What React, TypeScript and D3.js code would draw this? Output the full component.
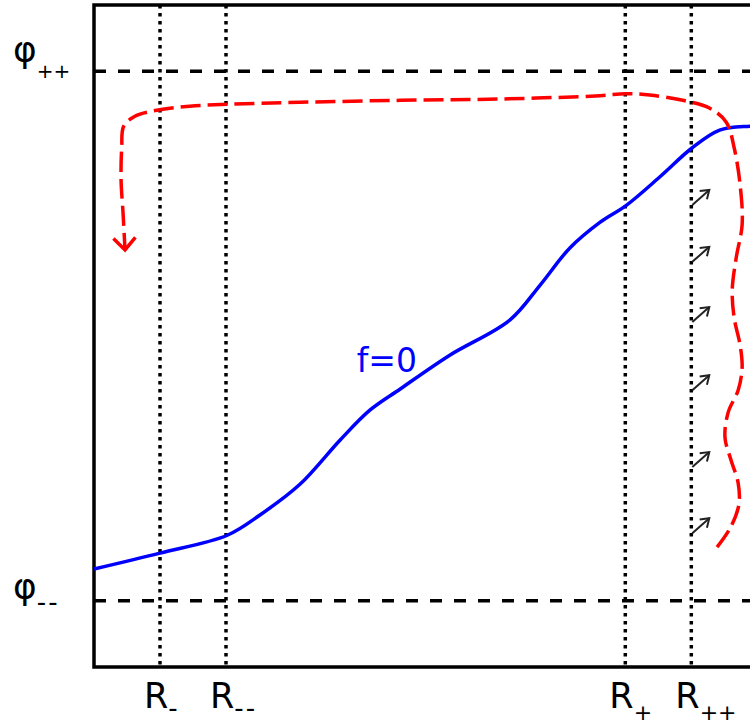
import React, { useRef, useEffect } from 'react'
import * as d3 from 'd3'

const W = 750
const H = 724

// vertical guide lines (radii) and their labels
const radiusValues = [1.0, 2.0, 8.05, 9.05]
const radiusSubs = ['-', '--', '+', '++']

// horizontal guide lines (phi levels)
const phiValues = [9.0, 1.0]
const phiSubs = ['++', '--']

// f=0 curve (blue)
const fX = [0, 1.0, 2.02, 2.52, 3.12, 3.73, 4.18, 4.64, 5.39, 6.3, 6.76, 7.21, 7.67, 8.06, 8.58, 9.06, 9.48, 9.94, 10.2]
const fY = [1.48, 1.72, 1.99, 2.3, 2.76, 3.43, 3.88, 4.2, 4.71, 5.24, 5.77, 6.33, 6.72, 6.97, 7.41, 7.84, 8.11, 8.17, 8.18]

// trajectory (red dashed), drawn from its start at the bottom right to the arrow head
const flowX = [9.44, 9.64, 9.77, 9.76, 9.65, 9.56, 9.61, 9.76, 9.82, 9.79, 9.7, 9.67, 9.73, 9.82, 9.79, 9.7, 9.58, 9.33, 8.92, 8.42, 8.05, 7.67, 6.15, 4.64, 3.12, 2.02, 1.45, 0.95, 0.62, 0.45, 0.42, 0.41, 0.44, 0.47]
const flowY = [1.81, 2.1, 2.45, 2.78, 3.13, 3.47, 3.85, 4.18, 4.52, 4.86, 5.27, 5.69, 6.18, 6.68, 7.28, 7.84, 8.23, 8.44, 8.56, 8.64, 8.66, 8.63, 8.58, 8.56, 8.53, 8.5, 8.47, 8.41, 8.32, 8.17, 7.85, 7.36, 6.86, 6.3]

// small arrows along R++ (tail heights)
const arrowY = [6.98, 6.12, 5.21, 4.18, 3.02, 2.02]

const FONT = 'DejaVu Sans, sans-serif'

const App = () => {
  const svgRef = useRef(null)

  useEffect(() => {
    const svg = d3.select(svgRef.current)
    svg.selectAll('*').remove()

    const x = d3.scaleLinear().domain([0, 10]).range([94, 754])
    const y = d3.scaleLinear().domain([0, 10]).range([667, 5])

    const defs = svg.append('defs')
    defs.append('marker')
      .attr('id', 'blackHead')
      .attr('markerUnits', 'userSpaceOnUse')
      .attr('markerWidth', 20).attr('markerHeight', 20)
      .attr('viewBox', '-10 -10 20 20')
      .attr('refX', 0).attr('refY', 0)
      .attr('orient', 'auto')
      .append('path')
      .attr('d', 'M-8,-5.5 L0,0 L-8,5.5')
      .attr('fill', 'none')
      .attr('stroke', '#222')
      .attr('stroke-width', 2)
    defs.append('marker')
      .attr('id', 'redHead')
      .attr('markerUnits', 'userSpaceOnUse')
      .attr('markerWidth', 40).attr('markerHeight', 40)
      .attr('viewBox', '-20 -20 40 40')
      .attr('refX', 0).attr('refY', 0)
      .attr('orient', 'auto')
      .append('path')
      .attr('d', 'M-12,-11 L0,0 L-12,11')
      .attr('fill', 'none')
      .attr('stroke', '#ff0000')
      .attr('stroke-width', 3.5)

    // guide lines
    svg.append('g').selectAll('line.rad')
      .data(radiusValues)
      .enter().append('line')
      .attr('class', 'rad')
      .attr('x1', d => x(d)).attr('x2', d => x(d))
      .attr('y1', y(10)).attr('y2', y(0))
      .attr('stroke', '#000')
      .attr('stroke-width', 3.5)
      .attr('stroke-dasharray', '3.5 4.5')

    svg.append('g').selectAll('line.phi')
      .data(phiValues)
      .enter().append('line')
      .attr('class', 'phi')
      .attr('x1', x(0)).attr('x2', W + 10)
      .attr('y1', d => y(d)).attr('y2', d => y(d))
      .attr('stroke', '#000')
      .attr('stroke-width', 3.5)
      .attr('stroke-dasharray', '12 12')

    // frame
    svg.append('rect')
      .attr('x', x(0)).attr('y', y(10))
      .attr('width', W).attr('height', y(0) - y(10))
      .attr('fill', 'none')
      .attr('stroke', '#000')
      .attr('stroke-width', 3.5)

    // f=0 curve
    const fLine = d3.line<number>()
      .x(i => x(fX[i]))
      .y(i => y(fY[i]))
      .curve(d3.curveCatmullRom)
    svg.append('path')
      .attr('d', fLine(d3.range(fX.length)))
      .attr('fill', 'none')
      .attr('stroke', '#0000ff')
      .attr('stroke-width', 3.5)

    svg.append('text')
      .attr('x', x(3.98)).attr('y', y(4.45))
      .attr('font-family', FONT)
      .attr('font-size', 33)
      .attr('fill', '#0000ff')
      .text('f=0')

    // arrows at R++
    svg.append('g').selectAll('line.arr')
      .data(arrowY)
      .enter().append('line')
      .attr('class', 'arr')
      .attr('x1', x(radiusValues[3]) + 1).attr('y1', d => y(d))
      .attr('x2', x(radiusValues[3]) + 18).attr('y2', d => y(d) - 15)
      .attr('stroke', '#222')
      .attr('stroke-width', 2)
      .attr('marker-end', 'url(#blackHead)')

    // red trajectory
    const flowLine = d3.line<number>()
      .x(i => x(flowX[i]))
      .y(i => y(flowY[i]))
      .curve(d3.curveCatmullRom)
    svg.append('path')
      .attr('d', flowLine(d3.range(flowX.length)))
      .attr('fill', 'none')
      .attr('stroke', '#ff0000')
      .attr('stroke-width', 3.5)
      .attr('stroke-dasharray', '20 7')
      .attr('marker-end', 'url(#redHead)')

    // R labels
    const rl = svg.append('g').selectAll('text.rl')
      .data(radiusValues)
      .enter().append('text')
      .attr('class', 'rl')
      .attr('x', d => x(d) - 16)
      .attr('y', 708)
      .attr('font-family', FONT)
      .attr('font-size', 35)
    rl.append('tspan').text('R')
    rl.append('tspan')
      .attr('dy', (d, i) => radiusSubs[i].includes('+') ? 12 : 9)
      .attr('font-size', (d, i) => radiusSubs[i].includes('+') ? 22 : 26)
      .attr('letter-spacing', (d, i) => radiusSubs[i].includes('+') ? 0 : 2)
      .text((d, i) => radiusSubs[i])

    // phi labels
    const pl = svg.append('g').selectAll('text.pl')
      .data(phiValues)
      .enter().append('text')
      .attr('class', 'pl')
      .attr('x', 13)
      .attr('y', (d, i) => y(d) + (phiSubs[i] === '++' ? -9 : -2))
      .attr('font-family', FONT)
      .attr('font-size', 36)
    pl.append('tspan').text('φ')
    pl.append('tspan')
      .attr('dy', (d, i) => phiSubs[i] === '++' ? 16 : 12)
      .attr('font-size', (d, i) => phiSubs[i] === '++' ? 20 : 26)
      .attr('letter-spacing', (d, i) => phiSubs[i] === '++' ? 0 : 2)
      .text((d, i) => phiSubs[i])
  }, [])

  return (
    <svg ref={svgRef} width={W} height={H}
      style={{ position: 'absolute', left: 0, top: 0, background: '#fff' }} />
  )
}

export default App
